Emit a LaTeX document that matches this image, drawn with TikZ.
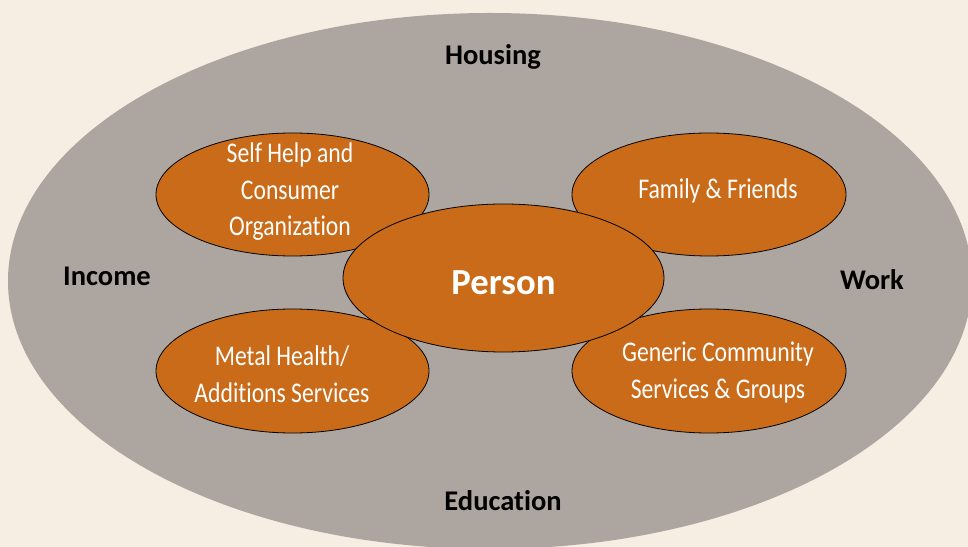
\documentclass[tikz,border=0pt]{standalone}
\usepackage{fontspec}
\setmainfont[Ligatures=NoCommon]{Carlito}
\newfontfamily\narrowfont[FakeStretch=0.83, Ligatures=NoCommon]{Carlito}
\usetikzlibrary{shapes.geometric}
\definecolor{paper}{HTML}{F6EDE3}
\definecolor{ring}{HTML}{ADA6A0}
\definecolor{rust}{HTML}{C96B19}
\tikzset{
  bubble/.style={ellipse, draw=black, line width=0.8bp, fill=rust, inner sep=0pt},
  bubbletext/.style={text=white, align=center, inner sep=0pt, anchor=base,
    font=\narrowfont\fontsize{28.5bp}{36.7bp}\selectfont},
  areatag/.style={font=\fontsize{28.5bp}{34bp}\selectfont\bfseries, text=black, inner sep=0pt, anchor=base},
}
\begin{document}
\begin{tikzpicture}[x=1bp, y=-1bp]
  \useasboundingbox (0,0) rectangle (968,547);
  \fill[paper] (0,0) rectangle (968,547);
  \begin{scope}
    \clip (0,0) rectangle (968,547);
    \node[ellipse, fill=ring, minimum width=964bp, minimum height=536bp, inner sep=0pt] (world) at (490,281) {};
  \end{scope}

  % life areas around the person
  \node[areatag] (housing) at (493,65) {Housing};
  \node[areatag] (income) at (107,286) {Income};
  \node[areatag] (work) at (872,290) {Work};
  \node[areatag] (education) at (503,510) {Education};

  % supports (text nodes sit on the baseline of their last line)
  \node[bubble, minimum width=273bp, minimum height=123bp] (selfhelp) at (292.5,194.5) {};
  \node[bubbletext] (selfhelptxt) at (290,236) {Self Help and\\Consumer\\Organization};
  \node[bubble, minimum width=274bp, minimum height=123bp] (family) at (709,194.5) {};
  \node[bubbletext] (familytxt) at (718,199) {Family \& Friends};
  \node[bubble, minimum width=273bp, minimum height=124bp] (mental) at (292.5,371) {};
  \node[bubbletext] (mentaltxt) at (282,402) {Metal Health/\\Additions Services};
  \node[bubble, minimum width=274bp, minimum height=124bp] (generic) at (709,371) {};
  \node[bubbletext] (generictxt) at (718,398) {Generic Community\\Services \& Groups};

  % the person at the centre
  \node[bubble, minimum width=321bp, minimum height=148bp] (person) at (503.5,278) {};
  \node[bubbletext, font=\fontsize{36.7bp}{44bp}\selectfont\bfseries] (persontxt) at (503.5,295) {Person};
\end{tikzpicture}
\end{document}
